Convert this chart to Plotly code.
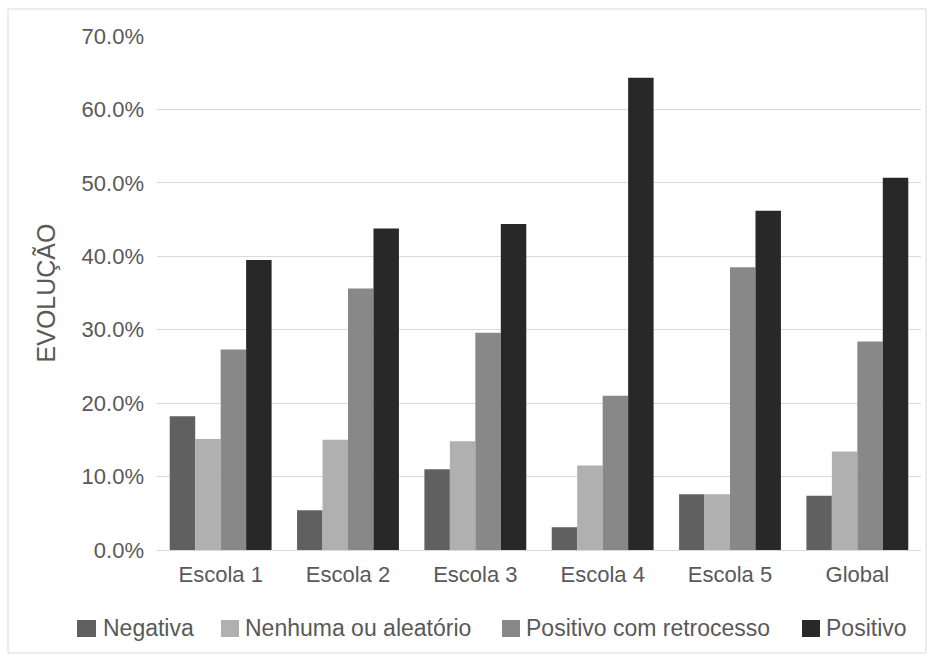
import plotly.graph_objects as go

# Share of students per evolution type, by school
categories = ["Escola 1", "Escola 2", "Escola 3", "Escola 4", "Escola 5", "Global"]
series_names = ["Negativa", "Nenhuma ou aleatório", "Positivo com retrocesso", "Positivo"]
negativa = [0.182, 0.054, 0.110, 0.031, 0.076, 0.074]
nenhuma = [0.151, 0.150, 0.148, 0.115, 0.076, 0.134]
positivo_retrocesso = [0.273, 0.356, 0.296, 0.210, 0.385, 0.284]
positivo = [0.395, 0.438, 0.444, 0.643, 0.462, 0.507]
y_ticks = [0.0, 0.1, 0.2, 0.3, 0.4, 0.5, 0.6, 0.7]

series_values = [negativa, nenhuma, positivo_retrocesso, positivo]
colors = ["#606060", "#b0b0b0", "#888888", "#282828"]

W, H = 934, 662
L, R, T, B = 157, 13, 36, 112
PW, PH = W - L - R, H - T - B
FONT = "Liberation Sans, Arial, sans-serif"
TEXT = "#595959"


def px_x(px):
    return (px - L) / PW


def px_y(py):
    return (H - B - py) / PH


fig = go.Figure()
for name, vals, col in zip(series_names, series_values, colors):
    fig.add_trace(go.Bar(
        x=categories, y=vals, name=name,
        marker=dict(color=col, line=dict(width=0)),
        showlegend=False,
        hovertemplate="%{x}<br>" + name + ": %{y:.1%}<extra></extra>",
    ))

# Legend drawn as swatches + labels along the bottom
legend_swatch_px = [(77, 96), (221, 239), (502, 520), (802, 820)]
legend_text_px = [101, 243, 524, 824]
sw_top, sw_bot, legend_mid = 620, 637, 628

shapes = []
annotations = []
for (x0, x1), tx, name, col in zip(legend_swatch_px, legend_text_px, series_names, colors):
    shapes.append(dict(
        type="rect", xref="paper", yref="paper",
        x0=px_x(x0), x1=px_x(x1), y0=px_y(sw_bot), y1=px_y(sw_top),
        fillcolor=col, line=dict(width=0),
    ))
    annotations.append(dict(
        text=name, xref="paper", yref="paper",
        x=px_x(tx), y=px_y(legend_mid), xanchor="left", yanchor="middle",
        showarrow=False, font=dict(family=FONT, size=23, color=TEXT),
    ))

# Chart frame
shapes.append(dict(
    type="rect", xref="paper", yref="paper",
    x0=px_x(8), x1=px_x(926), y0=px_y(653), y1=px_y(9),
    line=dict(color="#d9d9d9", width=1), fillcolor="rgba(0,0,0,0)", layer="below",
))

fig.update_layout(
    width=W, height=H,
    margin=dict(l=L, r=R, t=T, b=B),
    paper_bgcolor="white", plot_bgcolor="white",
    barmode="group", bargap=0.2, bargroupgap=0,
    font=dict(family=FONT, size=22, color=TEXT),
    shapes=shapes, annotations=annotations,
    xaxis=dict(
        showgrid=False, showline=True, linecolor="#d9d9d9", linewidth=1,
        ticks="", ticklabelstandoff=5,
        tickfont=dict(family=FONT, size=22, color=TEXT),
        fixedrange=True,
    ),
    yaxis=dict(
        range=[0, 0.7], tickvals=y_ticks, tickformat=".1%",
        showgrid=True, gridcolor="#d9d9d9", gridwidth=1,
        zeroline=False, showline=False, ticks="",
        ticklabelstandoff=12,
        tickfont=dict(family=FONT, size=22, color=TEXT),
        title=dict(text="EVOLUÇÃO", standoff=18,
                   font=dict(family=FONT, size=25, color=TEXT)),
        fixedrange=True,
    ),
)

fig.write_html("out.html")
